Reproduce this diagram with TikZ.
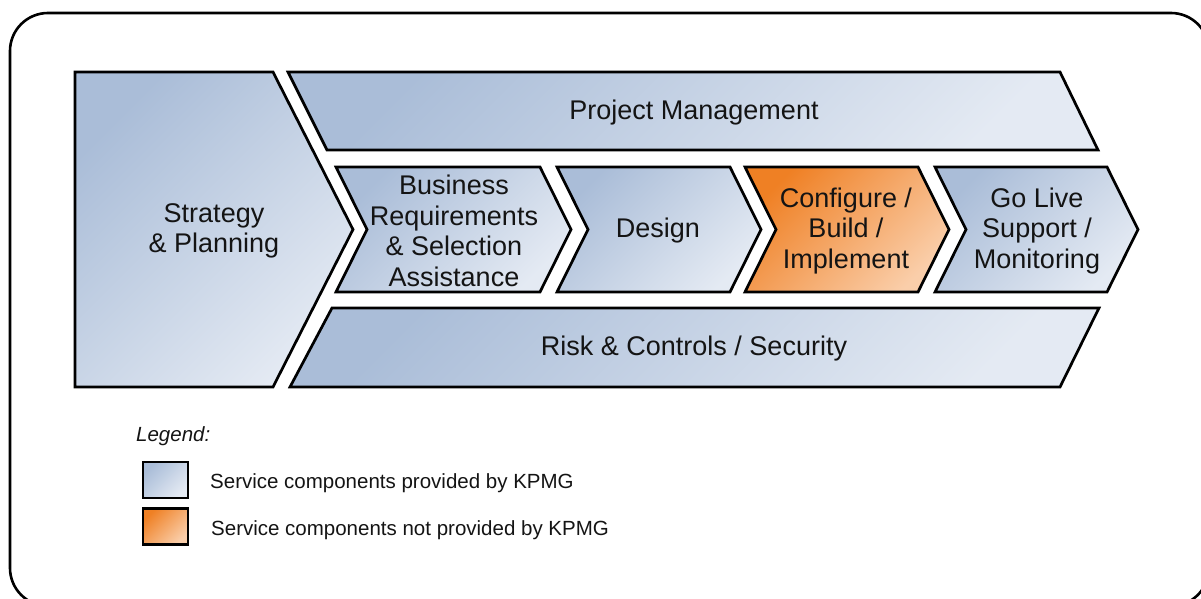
\documentclass[tikz,border=0pt]{standalone}
\usepackage{fontspec}
\setmainfont{Liberation Sans}
\definecolor{blD}{RGB}{170,189,216}
\definecolor{blM}{RGB}{180,198,223}
\definecolor{blL}{RGB}{228,234,243}
\definecolor{orD}{RGB}{239,128,36}
\definecolor{orM}{RGB}{241,140,56}
\definecolor{orL}{RGB}{250,206,170}
\definecolor{txt}{RGB}{20,20,20}
\begin{document}
\begin{tikzpicture}[x=1pt,y=-1pt,
  shp/.style={draw=black, line width=2.7pt, line join=miter},
  blueshape/.style={shp, top color=blD, middle color=blM, bottom color=blL, shading angle=45},
  orangeshape/.style={shp, top color=orD, middle color=orM, bottom color=orL, shading angle=45},
  lbl/.style={align=center, inner sep=0pt, text=txt, font=\fontsize{27}{30.5}\selectfont},
  legtext/.style={anchor=base west, inner sep=0pt, text=txt, font=\fontsize{20.5}{24}\selectfont},
  legbox/.style={minimum width=45pt, minimum height=36pt, inner sep=0pt}]
\useasboundingbox (0,0) rectangle (1201,599);
\clip (0,0) rectangle (1201,599);
% outer frame
\draw[line width=2.6pt, rounded corners=38pt] (10,13) rectangle (1209,606);
% Strategy & Planning
\draw[blueshape] (75,72) -- (273,72) -- (353,229.5) -- (273,387) -- (75,387) -- cycle;
% Project Management
\draw[blueshape] (288,72) -- (1060,72) -- (1098,150) -- (327,150) -- cycle;
% Risk & Controls
\draw[blueshape] (332,308) -- (1099,308) -- (1060,387) -- (290,387) -- cycle;
% middle chevrons
\draw[blueshape] (336,167) -- (540,167) -- (571,229.5) -- (540,292) -- (336,292) -- (367,229.5) -- cycle;
\draw[blueshape] (557,167) -- (730,167) -- (761,229.5) -- (730,292) -- (557,292) -- (588,229.5) -- cycle;
\draw[orangeshape] (745,167) -- (918,167) -- (949,229.5) -- (918,292) -- (745,292) -- (776,229.5) -- cycle;
\draw[blueshape] (935,167) -- (1107,167) -- (1138,229.5) -- (1107,292) -- (935,292) -- (966,229.5) -- cycle;
% labels
\node[lbl] (pm) at (694,113) {Project Management};
\node[lbl] (sp) at (214,231) {Strategy\\\& Planning};
\node[lbl] (br) at (454,231) {Business\\Requirements\\\& Selection\\Assistance};
\node[lbl] (de) at (658,231) {Design};
\node[lbl] (cb) at (846,231) {Configure /\\Build /\\Implement};
\node[lbl] (gl) at (1037,231) {Go Live\\Support /\\Monitoring};
\node[lbl] (rc) at (694,349) {Risk \& Controls / Security};
% legend
\node[legtext, font=\fontsize{20.5}{24}\selectfont\itshape] (lg) at (136,441) {Legend:};
\node[legbox, blueshape] (k1) at (165.5,480) {};
\node[legbox, orangeshape] (k2) at (165.5,526.5) {};
\node[legtext] (t1) at (210,488) {Service components provided by KPMG};
\node[legtext] (t2) at (211,535) {Service components not provided by KPMG};
\end{tikzpicture}
\end{document}
